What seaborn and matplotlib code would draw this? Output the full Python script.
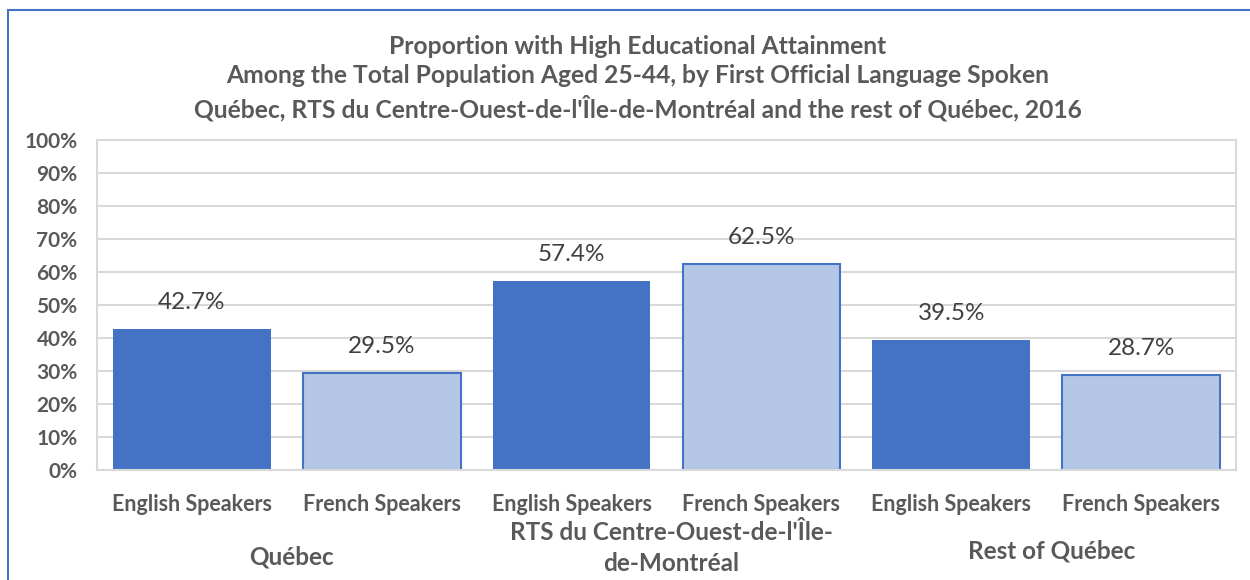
import matplotlib
matplotlib.use("Agg")
import matplotlib.pyplot as plt
import matplotlib.patches as mpatches
import seaborn as sns
import pandas as pd
from matplotlib.ticker import PercentFormatter

regions = ["Québec", "RTS du Centre-Ouest-de-l'Île-\nde-Montréal", "Rest of Québec"]
languages = ["English Speakers", "French Speakers"]
english_vals = [42.7, 57.4, 39.5]
french_vals = [29.5, 62.5, 28.7]

rows = []
for i, r in enumerate(regions):
    rows.append({"key": f"{i}E", "region": r, "language": languages[0], "value": english_vals[i]})
    rows.append({"key": f"{i}F", "region": r, "language": languages[1], "value": french_vals[i]})
df = pd.DataFrame(rows)

sns.set_style("white")
plt.rcParams['font.family'] = ['Lato', 'DejaVu Sans']
grey = "#595959"

fig = plt.figure(figsize=(12.5, 5.8), dpi=100)
ax = fig.add_axes([97/1250, 1-470/580, (1236-97)/1250, (470-140)/580])

palette = {languages[0]: "#4472C4", languages[1]: "#B4C7E7"}
sns.barplot(data=df, x="key", y="value", hue="language", palette=palette,
            dodge=False, width=0.83, ax=ax, legend=False, saturation=1)

for p, lang in zip(ax.patches, [languages[0]]*3 + [languages[1]]*3):
    if lang == languages[1]:
        p.set_edgecolor("#4472C4")
        p.set_linewidth(1.5)
    else:
        p.set_edgecolor("none")

for i, row in df.iterrows():
    ax.text(i, row["value"] + 4.8, f"{row['value']:.1f}%", ha="center", va="bottom",
            fontsize=17.5, color="#404040")

ax.set_ylim(0, 100)
ax.set_xlim(-0.5, 5.5)
ax.set_yticks(range(0, 101, 10))
ax.yaxis.set_major_formatter(PercentFormatter(decimals=0))
ax.grid(axis="y", color="#D9D9D9", linewidth=1.5)
ax.set_axisbelow(True)
for s in ax.spines.values():
    s.set_color("#D9D9D9")
    s.set_linewidth(1.5)
ax.tick_params(axis="y", length=0, labelsize=15, labelcolor=grey, pad=14)
for t in ax.get_yticklabels():
    t.set_fontweight("bold")
ax.set_xticks(range(6))
ax.set_xticklabels([languages[0], languages[1]] * 3, fontsize=15.5, color=grey,
                   fontweight="bold")
ax.tick_params(axis="x", length=0, pad=17)
ax.set_xlabel("")
ax.set_ylabel("")

# group labels
group_y = [557, 548, 551]
for i, r in enumerate(regions):
    xc = (1236-97)/6 * (2*i + 1) + 97 + 5
    fig.text(xc/1250, 1 - group_y[i]/580, r, ha="center", va="center",
             fontsize=17.5, fontweight="bold", color=grey, linespacing=1.45)

title = ("Proportion with High Educational Attainment\n"
         "Among the Total Population Aged 25-44, by First Official Language Spoken\n"
         "Québec, RTS du Centre-Ouest-de-l'Île-de-Montréal and the rest of Québec, 2016")
fig.text(638/1250, 1 - 78/580, title, ha="center", va="center", fontsize=17.7,
         fontweight="bold", color=grey, linespacing=1.32)

fig.patches.append(mpatches.Rectangle((8/1250, -0.1), 1.2, 1 - 10/580 + 0.1,
                                      transform=fig.transFigure, fill=False,
                                      edgecolor="#4472C4", linewidth=1.5))

fig.savefig("out.png", dpi=100)
